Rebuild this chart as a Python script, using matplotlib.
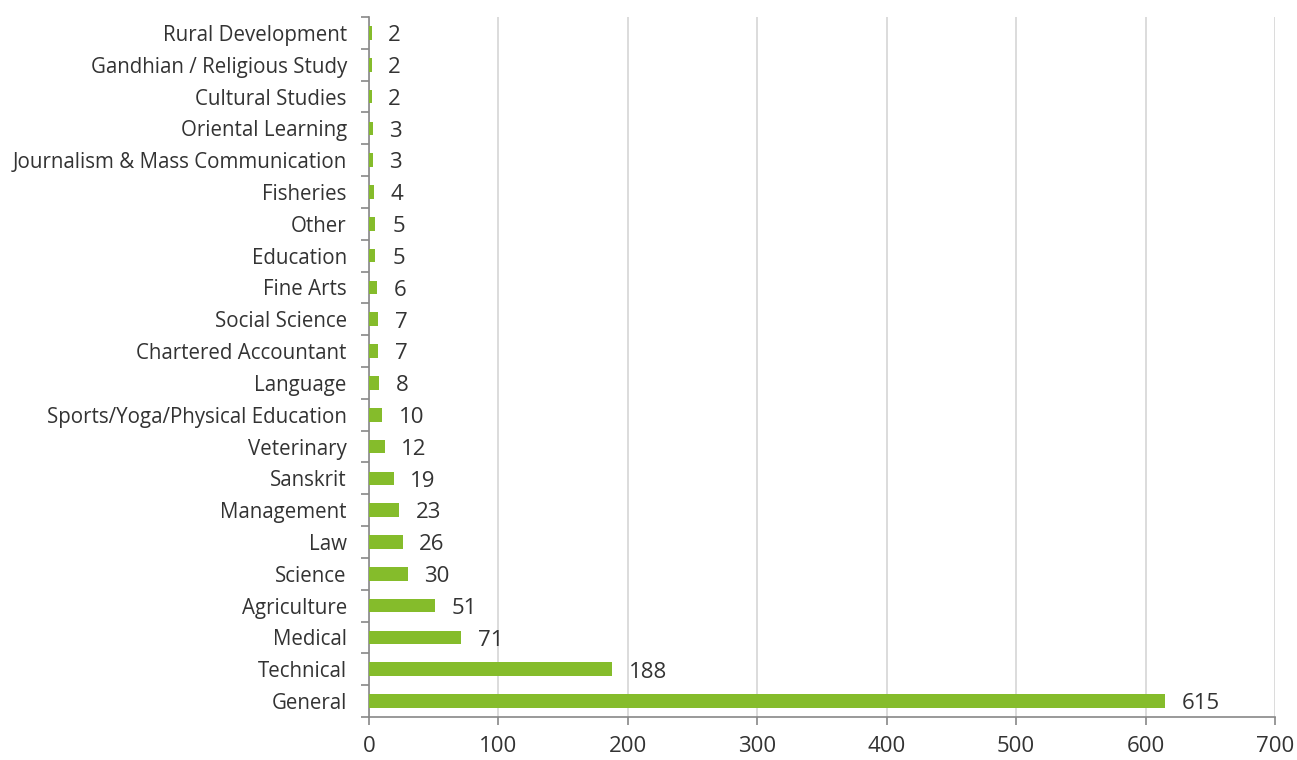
import matplotlib.pyplot as plt
import numpy as np

categories = ['General', 'Technical', 'Medical', 'Agriculture', 'Science', 'Law',
              'Management', 'Sanskrit', 'Veterinary', 'Sports/Yoga/Physical Education',
              'Language', 'Chartered Accountant', 'Social Science', 'Fine Arts',
              'Education', 'Other', 'Fisheries', 'Journalism & Mass Communication',
              'Oriental Learning', 'Cultural Studies', 'Gandhian / Religious Study',
              'Rural Development']
counts = [615, 188, 71, 51, 30, 26, 23, 19, 12, 10, 8, 7, 7, 6, 5, 5, 4, 3, 3, 2, 2, 2]
x_ticks = [0, 100, 200, 300, 400, 500, 600, 700]

plt.rcParams['font.family'] = ['Open Sans', 'DejaVu Sans']

fig = plt.figure(figsize=(12.97, 7.60), dpi=100)
ax = fig.add_axes([0.2845, 0.0566, 0.6985, 0.921])

y = np.arange(len(categories))
ax.barh(y, counts, height=0.43, color='#85BC2B', zorder=3)

for yi, v in zip(y, counts):
    ax.annotate(str(v), (v, yi), xytext=(12, -2), textcoords='offset points',
                ha='left', va='center', fontsize=16, color='#333333')

ax.set_xlim(0, 700)
ax.set_ylim(-0.5, len(categories) - 0.5)
ax.set_xticks(x_ticks)
ax.set_yticks(y)
ax.set_yticklabels(categories, fontsize=14.8, color='#333333')
ax.set_yticks(np.arange(-0.5, len(categories), 1), minor=True)
ax.tick_params(axis='y', which='major', length=0, pad=16)
ax.tick_params(axis='y', which='minor', length=6, color='#888888', width=1.2)
ax.tick_params(axis='x', labelsize=16, length=6, color='#888888', width=1.2,
               labelcolor='#333333', pad=8)

ax.grid(axis='x', color='#d9d9d9', linewidth=1.3, zorder=0)
for s in ['top', 'right']:
    ax.spines[s].set_visible(False)
for s in ['left', 'bottom']:
    ax.spines[s].set_color('#888888')
    ax.spines[s].set_linewidth(1.2)

fig.savefig('out.png', dpi=100)
